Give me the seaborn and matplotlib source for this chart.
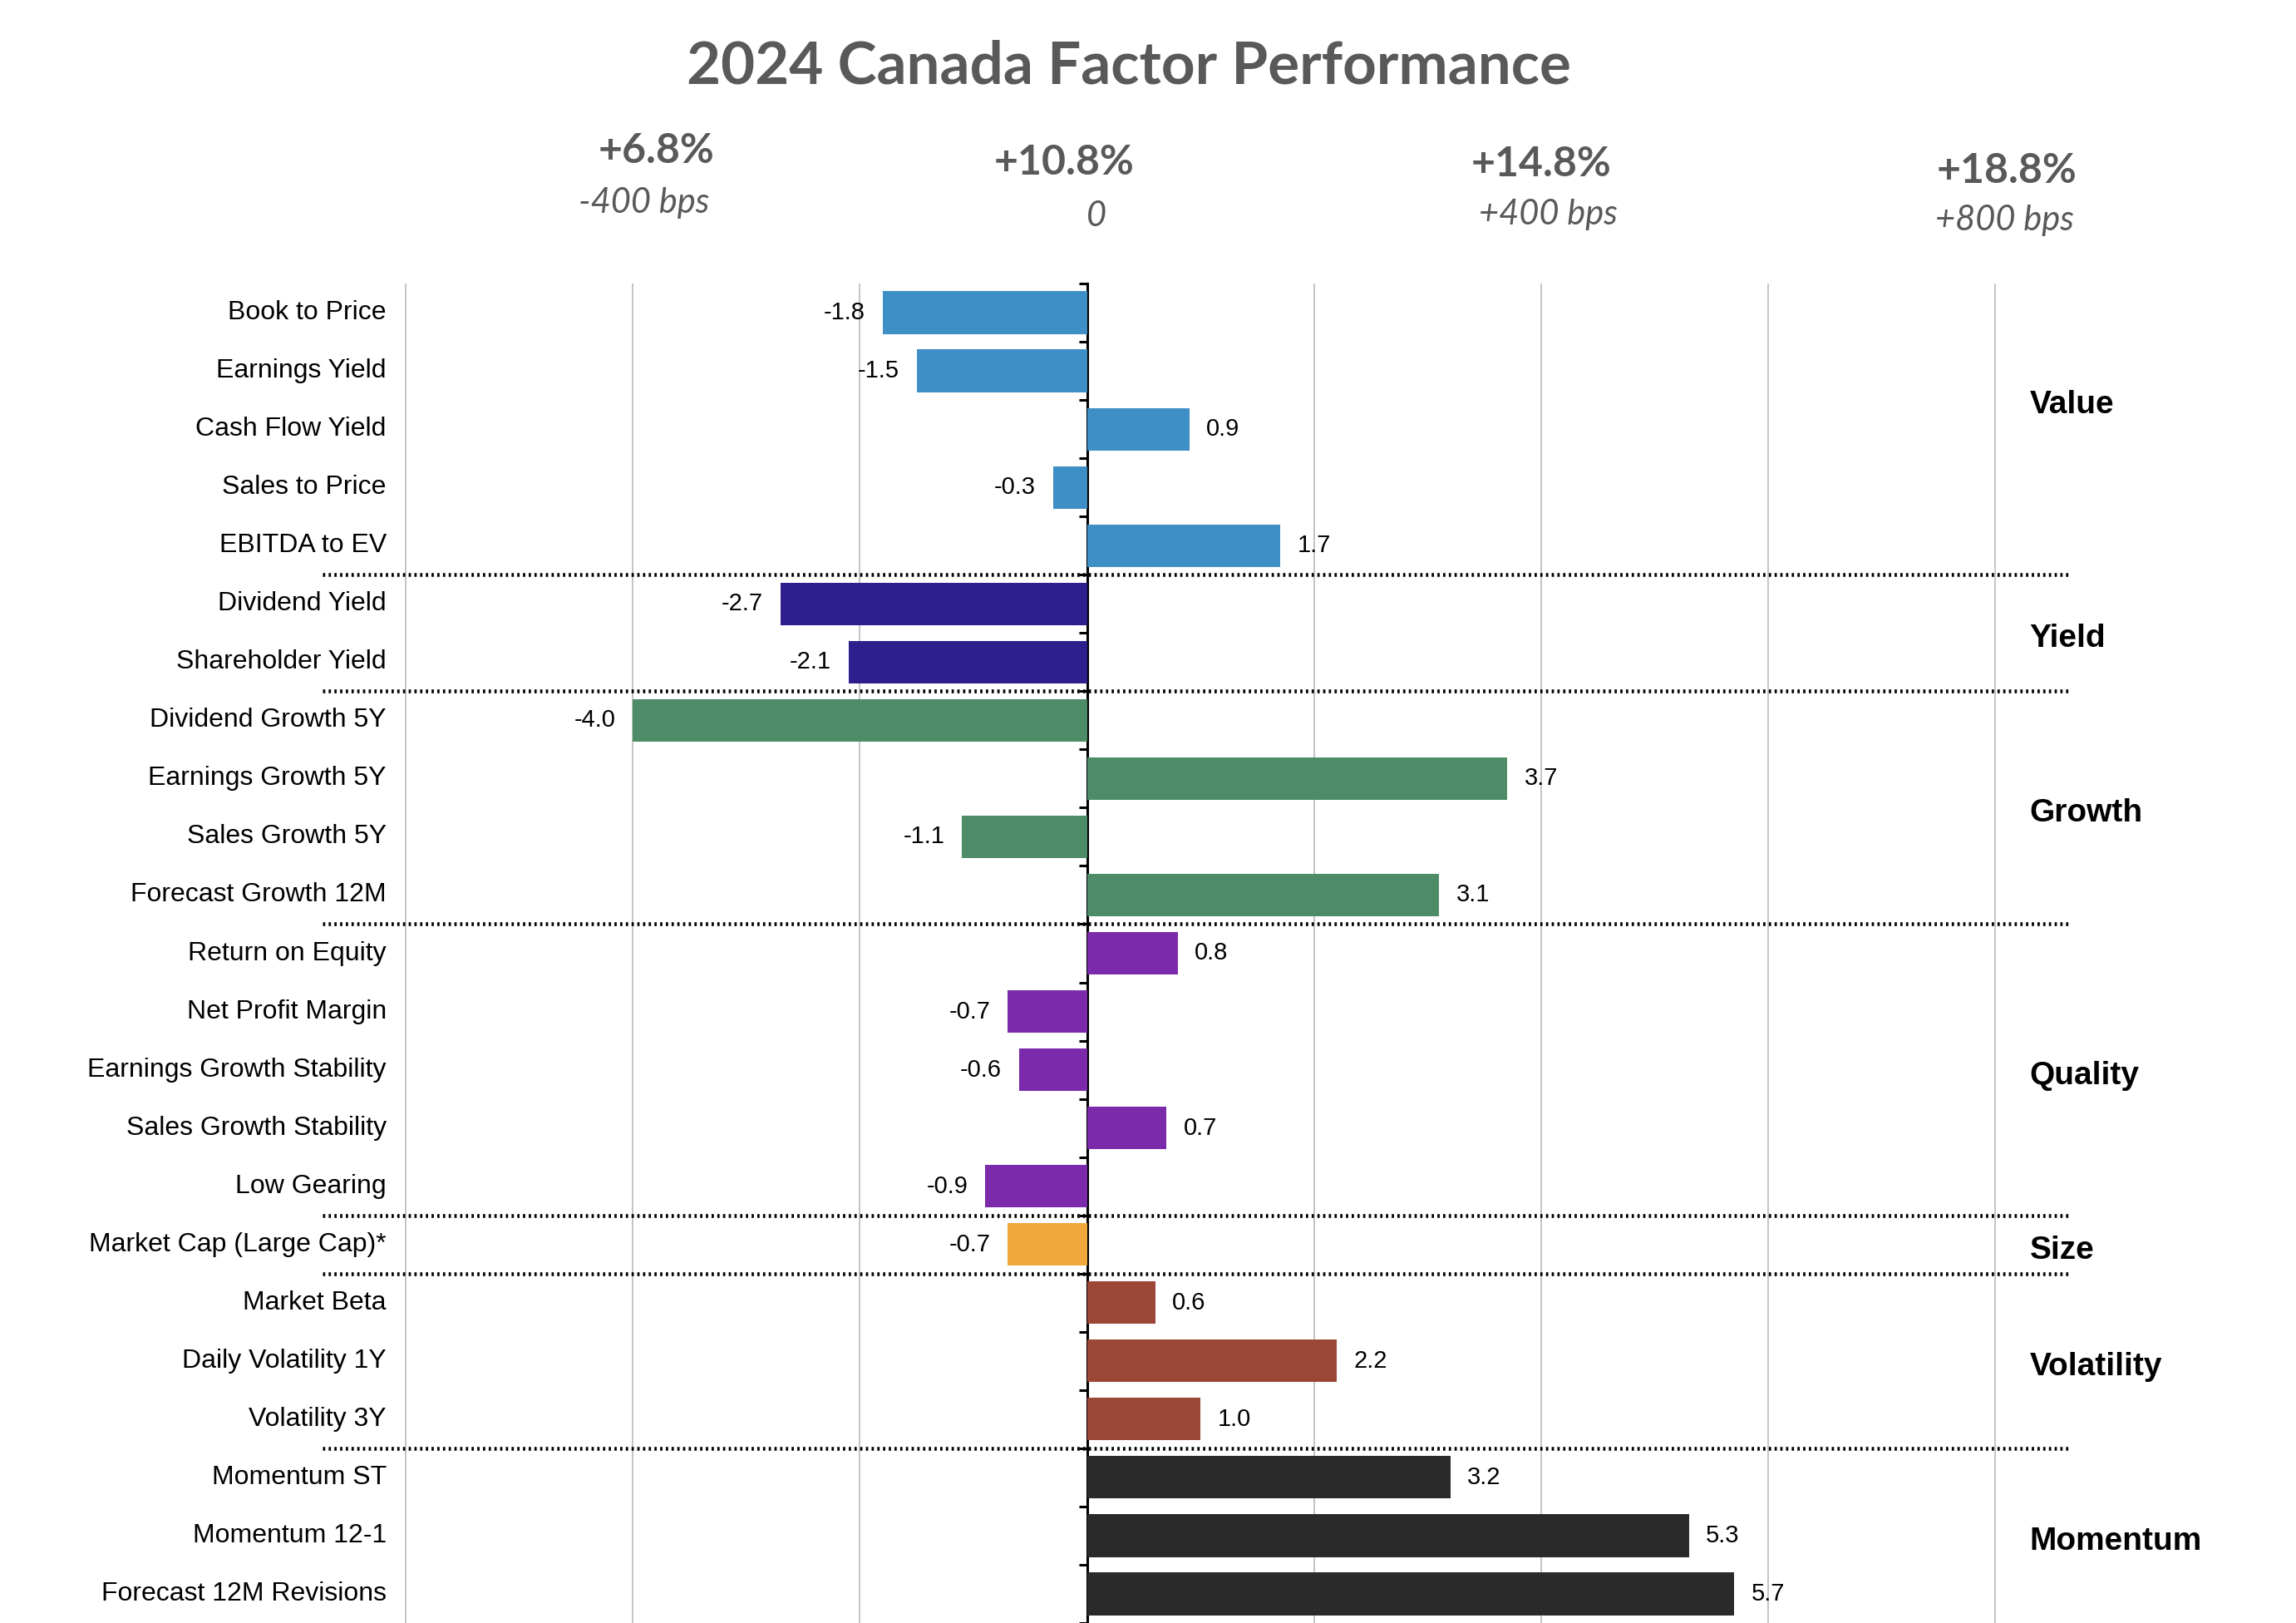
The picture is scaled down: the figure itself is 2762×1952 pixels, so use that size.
import matplotlib
matplotlib.use("Agg")
import matplotlib.pyplot as plt
import matplotlib.transforms as mtransforms
import seaborn as sns
import pandas as pd
import numpy as np

# ---------------- data ----------------
factors = ["Book to Price", "Earnings Yield", "Cash Flow Yield", "Sales to Price", "EBITDA to EV",
           "Dividend Yield", "Shareholder Yield",
           "Dividend Growth 5Y", "Earnings Growth 5Y", "Sales Growth 5Y", "Forecast Growth 12M",
           "Return on Equity", "Net Profit Margin", "Earnings Growth Stability", "Sales Growth Stability", "Low Gearing",
           "Market Cap (Large Cap)*",
           "Market Beta", "Daily Volatility 1Y", "Volatility 3Y",
           "Momentum ST", "Momentum 12-1", "Forecast 12M Revisions"]
values = [-1.8, -1.5, 0.9, -0.3, 1.7,
          -2.7, -2.1,
          -4.0, 3.7, -1.1, 3.1,
          0.8, -0.7, -0.6, 0.7, -0.9,
          -0.7,
          0.6, 2.2, 1.0,
          3.2, 5.3, 5.7]
groups = (["Value"] * 5 + ["Yield"] * 2 + ["Growth"] * 4 + ["Quality"] * 5 + ["Size"] * 1
          + ["Volatility"] * 3 + ["Momentum"] * 3)
group_names = ["Value", "Yield", "Growth", "Quality", "Size", "Volatility", "Momentum"]
group_colors = ["#3F8FC7", "#2E1F8F", "#4E8C68", "#7A2AAA", "#F0A83C", "#9C4636", "#2A2A2A"]

header_pct = ["+6.8%", "+10.8%", "+14.8%", "+18.8%"]
header_bps = ["-400 bps", "0", "+400 bps", "+800 bps"]
title = "2024 Canada Factor Performance"

df = pd.DataFrame({"factor": factors, "value": values, "group": groups})

# ---------------- figure ----------------
sns.set_theme(style="white")
plt.rcParams["font.family"] = ["Liberation Sans", "DejaVu Sans"]

W, H = 2762, 1952
fig = plt.figure(figsize=(W / 100, H / 100), dpi=100)
ax_top_px = 341
ax = fig.add_axes([0.0, 0.0, 1.0, 1 - ax_top_px / H])

sns.barplot(data=df, x="value", y="factor", hue="group", hue_order=group_names,
            palette=group_colors, orient="h", dodge=False, width=0.73,
            legend=False, ax=ax, saturation=1, edgecolor="none")

# x scale: -6 at 488 px
px_per_unit = 136.6
xmin = -6 - 488 / px_per_unit
xmax = xmin + W / px_per_unit
ax.set_xlim(xmin, xmax)
ax.set_ylim(len(factors) - 0.5, -0.5)

for s in ax.spines.values():
    s.set_visible(False)
ax.set_xlabel("")
ax.set_ylabel("")
ax.set_yticks([])
ax.set_xticks([])

# gridlines
for g in [-6, -4, -2, 2, 4, 6, 8]:
    ax.axvline(g, color="#BFBFBF", lw=1.3, zorder=0)

# zero axis with boundary ticks
zero_frac = (0 - xmin) / (xmax - xmin)
sec = ax.secondary_yaxis(zero_frac)
sec.spines["left"].set_color("black")
sec.spines["left"].set_linewidth(2.2)
sec.set_yticks(np.arange(-0.5, len(factors), 1.0))
sec.set_yticklabels([])
sec.tick_params(axis="y", direction="out", length=7, width=2.2, color="black", left=True)

# category labels
for i, f in enumerate(factors):
    ax.text(-6.17, i, f, ha="right", va="center", fontsize=23, color="black")

# value labels
for i, v in enumerate(values):
    off = 0.15 if v >= 0 else -0.15
    ax.text(v + off, i, f"{v:.1f}", ha="left" if v >= 0 else "right", va="center",
            fontsize=21, color="black")

# group separators and labels
bounds = []
start = 0
for gname in group_names:
    n = groups.count(gname)
    center = start + (n - 1) / 2
    if gname == "Value":
        ypos = 1.58
    else:
        ypos = center + 0.1
    ax.text(8.3, ypos, gname, ha="left", va="center", fontsize=28,
            fontweight="bold", color="black")
    start += n
    if start < len(factors):
        bounds.append(start - 0.5)
for b in bounds:
    ax.plot([-6.73, 8.66], [b, b], color="black", lw=3.3,
            linestyle=(0, (0.6, 0.9)), zorder=3, solid_capstyle="butt", dash_capstyle="butt")

# header labels
trans = mtransforms.blended_transform_factory(ax.transData, fig.transFigure)
hx_pct = [-3.79, -0.2, 4.0, 8.1]
hy_pct = [181, 196, 198, 205]
hx_bps = [-3.9, 0.08, 4.06, 8.08]
hy_bps = [244, 260, 258, 265]
for t, xx, yy in zip(header_pct, hx_pct, hy_pct):
    ax.text(xx, 1 - yy / H, t, transform=trans, ha="center", va="center",
            fontsize=36, fontweight="bold", color="#595959", family=["Lato", "DejaVu Sans"])
for t, xx, yy in zip(header_bps, hx_bps, hy_bps):
    ax.text(xx, 1 - yy / H, t, transform=trans, ha="center", va="center",
            fontsize=30, style="italic", color="#595959", family=["Lato", "DejaVu Sans"])

fig.text(1358 / W, 1 - 80 / H, title, ha="center", va="center", fontsize=51,
         fontweight="bold", color="#595959", family=["Lato", "DejaVu Sans"])

fig.savefig("out.png", dpi=100)
